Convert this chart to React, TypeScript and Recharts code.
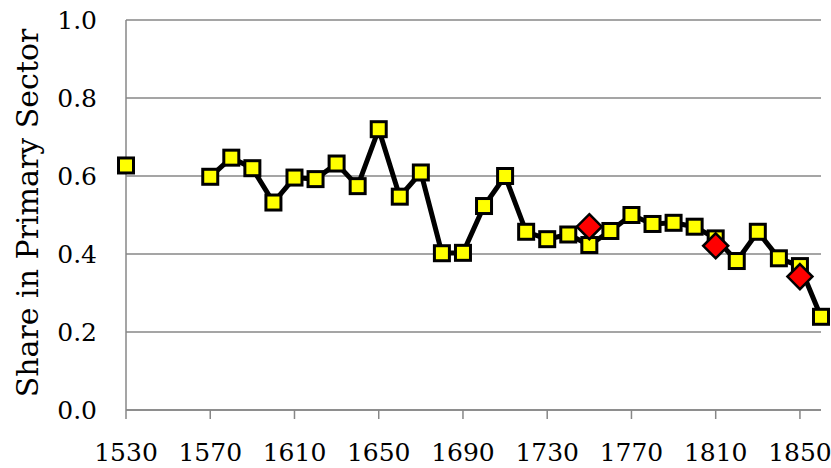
import React from 'react';
import { LineChart, Line, XAxis, YAxis, CartesianGrid, Label } from 'recharts';

const years = [
  1530, 1540, 1550, 1560, 1570, 1580, 1590, 1600, 1610, 1620, 1630, 1640,
  1650, 1660, 1670, 1680, 1690, 1700, 1710, 1720, 1730, 1740, 1750, 1760,
  1770, 1780, 1790, 1800, 1810, 1820, 1830, 1840, 1850, 1860,
];

const primaryShare: (number | null)[] = [
  0.627, null, null, null, 0.598, 0.647, 0.62, 0.532, 0.596, 0.592, 0.632, 0.574,
  0.72, 0.547, 0.609, 0.402, 0.403, 0.523, 0.6, 0.457, 0.438, 0.45, 0.423, 0.459,
  0.5, 0.477, 0.48, 0.47, 0.44, 0.382, 0.457, 0.389, 0.369, 0.239,
];

const altYears = [1750, 1810, 1850];
const altShare = [0.47, 0.421, 0.342];

const xTicks = [1530, 1570, 1610, 1650, 1690, 1730, 1770, 1810, 1850];
const yTicks = [0, 0.2, 0.4, 0.6, 0.8, 1.0];

const data = years.map((year, i) => {
  const k = altYears.indexOf(year);
  return { year, share: primaryShare[i], alt: k >= 0 ? altShare[k] : null };
});

const FONT = 'DejaVu Serif';
const GRID = '#878787';

const SquareDot = (props: any) => {
  const { cx, cy, value, index } = props;
  if (value == null || cx == null || cy == null) return <g key={`s-${index}`} />;
  const s = 15;
  return (
    <rect
      key={`s-${index}`}
      x={cx - s / 2}
      y={cy - s / 2}
      width={s}
      height={s}
      fill="#FFFF00"
      stroke="#000"
      strokeWidth={3}
    />
  );
};

const DiamondDot = (props: any) => {
  const { cx, cy, value, index } = props;
  if (value == null || cx == null || cy == null) return <g key={`d-${index}`} />;
  const r = 12.5;
  return (
    <path
      key={`d-${index}`}
      d={`M${cx},${cy - r} L${cx + r},${cy} L${cx},${cy + r} L${cx - r},${cy} Z`}
      fill="#FF0000"
      stroke="#000"
      strokeWidth={2.5}
      strokeLinejoin="miter"
    />
  );
};

export default function App() {
  return (
    <div style={{ position: 'absolute', left: 0, top: 0, width: 831, height: 468, background: '#fff' }}>
      <LineChart
        width={831}
        height={468}
        data={data}
        margin={{ top: 20, right: 10, bottom: 0, left: 0 }}
      >
        <CartesianGrid horizontal vertical={false} stroke={GRID} strokeWidth={1.5} />
        <XAxis
          dataKey="year"
          type="number"
          domain={[1530, 1860]}
          ticks={xTicks}
          interval={0}
          height={58}
          tickSize={9}
          tickMargin={24}
          axisLine={{ stroke: GRID, strokeWidth: 1.5 }}
          tickLine={{ stroke: GRID, strokeWidth: 1.5 }}
          tick={{ fill: '#000', fontSize: 25, fontFamily: FONT }}
        />
        <YAxis
          type="number"
          domain={[0, 1]}
          ticks={yTicks}
          interval={0}
          width={126}
          tickLine={false}
          tickMargin={23}
          tickFormatter={(v: number) => v.toFixed(1)}
          axisLine={{ stroke: GRID, strokeWidth: 1.5 }}
          tick={{ fill: '#000', fontSize: 25, fontFamily: FONT }}
        >
          <Label
            content={() => (
              <text
                x={0}
                y={0}
                transform="translate(37.5,213) rotate(-90)"
                textAnchor="middle"
                fill="#000"
                fontSize={30}
                fontFamily={FONT}
              >
                Share in Primary Sector
              </text>
            )}
          />
        </YAxis>
        <Line
          dataKey="share"
          stroke="#000"
          strokeWidth={5}
          connectNulls={false}
          isAnimationActive={false}
          dot={SquareDot}
          activeDot={false}
        />
        <Line
          dataKey="alt"
          stroke="none"
          connectNulls={false}
          isAnimationActive={false}
          dot={DiamondDot}
          activeDot={false}
        />
      </LineChart>
    </div>
  );
}
